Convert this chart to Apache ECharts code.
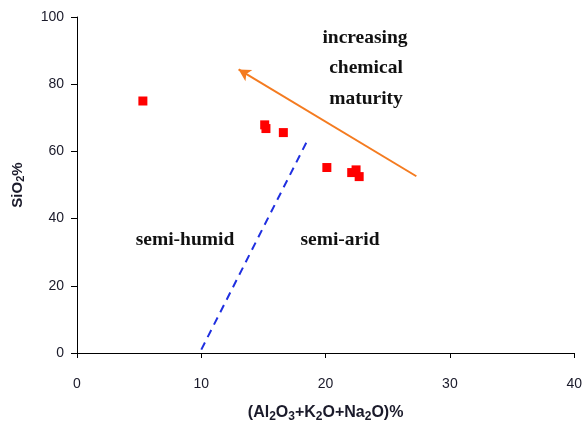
<!DOCTYPE html>
<html>
<head>
<meta charset="utf-8">
<script src="https://cdn.jsdelivr.net/npm/echarts@6/dist/echarts.min.js"></script>
<style>
  * { margin: 0; padding: 0; }
  body { background: #fff; }
</style>
</head>
<body>
<div id="chart" style="width:585px;height:428px;"></div>
<script>
// sample points (total alkali+alumina %, SiO2 %)
var oxideSum = [5.3, 15.1, 15.2, 16.6, 20.1, 22.1, 22.45, 22.7];
var silica   = [75.0, 67.9, 66.8, 65.6, 55.2, 53.7, 54.5, 52.5];

// dashed boundary semi-humid / semi-arid
var boundaryX = [10, 18.5];
var boundaryY = [1, 63];

// maturity arrow (start -> head)
var arrowX = [27.3, 13.0];
var arrowY = [52.6, 84.4];

var xTicks = [0, 10, 20, 30, 40];
var yTicks = [0, 20, 40, 60, 80, 100];

var points = oxideSum.map(function (v, i) { return [v, silica[i]]; });
var boundary = boundaryX.map(function (v, i) { return [v, boundaryY[i]]; });

var chart = echarts.init(document.getElementById('chart'));
var tickFont = { color: '#1a1a2a', fontSize: 14, fontFamily: 'Liberation Sans, Arial' };
var serifBold = 'bold 19.5px "Liberation Serif", "Times New Roman", serif';
var txt = function (s, x, y) {
    return { type: 'text', x: x, y: y, style: { text: s, font: serifBold, fill: '#111', align: 'center', verticalAlign: 'middle' } };
};

chart.setOption({
    animation: false,
    grid: { left: 77, right: 8, top: 17, bottom: 71 },
    xAxis: {
        type: 'value',
        min: xTicks[0], max: xTicks[xTicks.length - 1], interval: 10,
        axisLine: { lineStyle: { color: '#000', width: 1 } },
        axisTick: { length: 5, lineStyle: { color: '#000' } },
        splitLine: { show: false },
        axisLabel: Object.assign({ margin: 24 }, tickFont),
        name: '{b|(Al}{s|2}{b|O}{s|3}{b|+K}{s|2}{b|O+Na}{s|2}{b|O)%}',
        nameLocation: 'middle',
        nameGap: 50,
        nameMoveOverlap: false,
        nameTextStyle: {
            rich: {
                b: { fontSize: 16, fontWeight: 'bold', color: '#1a1a2a', fontFamily: 'Liberation Sans, Arial' },
                s: { fontSize: 12, fontWeight: 'bold', color: '#1a1a2a', fontFamily: 'Liberation Sans, Arial', padding: [8, 0, 0, 0] }
            }
        }
    },
    yAxis: {
        type: 'value',
        min: yTicks[0], max: yTicks[yTicks.length - 1], interval: 20,
        axisLine: { lineStyle: { color: '#000', width: 1 } },
        axisTick: { length: 6, lineStyle: { color: '#000' } },
        splitLine: { show: false },
        axisLabel: Object.assign({ margin: 13 }, tickFont),
        name: '{b|SiO}{s|2}{b|%}',
        nameLocation: 'middle',
        nameGap: 51,
        nameMoveOverlap: false,
        nameTextStyle: {
            rich: {
                b: { fontSize: 15, fontWeight: 'bold', color: '#1a1a2a', fontFamily: 'Liberation Sans, Arial' },
                s: { fontSize: 11, fontWeight: 'bold', color: '#1a1a2a', fontFamily: 'Liberation Sans, Arial', padding: [6, 0, 0, 0] }
            }
        }
    },
    series: [
        {
            type: 'line',
            data: boundary,
            showSymbol: false,
            silent: true,
            lineStyle: { color: '#1f2fe0', width: 2, type: [8, 6] }
        },
        {
            type: 'scatter',
            data: points,
            symbol: 'rect',
            symbolSize: 9,
            itemStyle: { color: '#ff0000', opacity: 1 },
            markLine: {
                silent: true,
                symbol: ['none', 'arrow'],
                symbolSize: [10, 12],
                label: { show: false },
                lineStyle: { color: '#f47b20', width: 2, type: 'solid', opacity: 1 },
                data: [[{ coord: [arrowX[0], arrowY[0]] }, { coord: [arrowX[1], arrowY[1]] }]]
            }
        }
    ],
    graphic: [
        txt('increasing', 365, 38),
        txt('chemical', 366, 68),
        txt('maturity', 366, 99),
        txt('semi-humid', 185, 240),
        txt('semi-arid', 340, 240)
    ]
});
</script>
</body>
</html>
